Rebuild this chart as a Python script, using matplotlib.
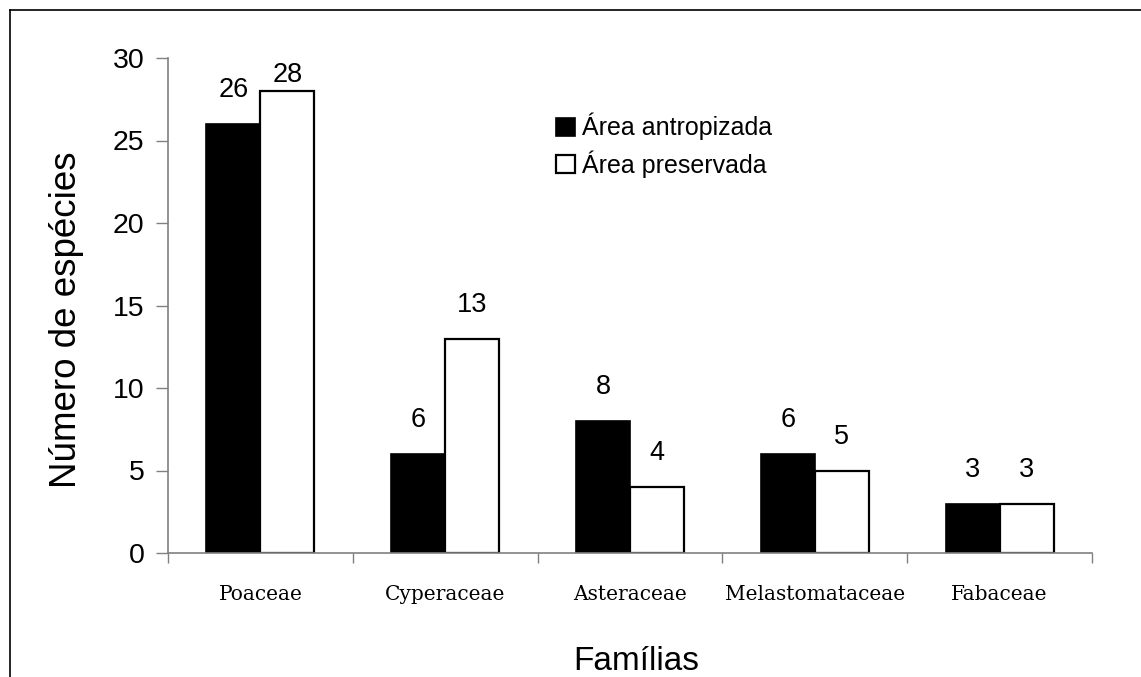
import matplotlib
matplotlib.use("Agg")
import matplotlib.pyplot as plt
from matplotlib.lines import Line2D
import numpy as np

# data
familias = ["Poaceae", "Cyperaceae", "Asteraceae", "Melastomataceae", "Fabaceae"]
antropizada = [26, 6, 8, 6, 3]
preservada = [28, 13, 4, 5, 3]
series_names = ["Área antropizada", "Área preservada"]

plt.rcParams['font.family'] = ['Liberation Sans', 'DejaVu Sans']

fig = plt.figure(figsize=(11.41, 6.77), dpi=100)
ax = fig.add_axes([168/1141, 1-553/677, (1092-168)/1141, (553-58)/677])

x = np.arange(len(familias))
w = 0.292
b1 = ax.bar(x - w/2, antropizada, w, color='black', edgecolor='black', linewidth=1.2,
            label=series_names[0])
b2 = ax.bar(x + w/2, preservada, w, color='white', edgecolor='black', linewidth=1.6,
            label=series_names[1])

# value labels above bars (kept under the top of the axis)
for bars, vals in ((b1, antropizada), (b2, preservada)):
    for r, v in zip(bars, vals):
        ty = min(v + 1.25, 28.2)
        ax.text(r.get_x() + r.get_width()/2, ty, str(v), ha='center', va='bottom',
                fontsize=19.5)

ax.set_xlim(-0.5, len(familias) - 0.5)
ax.set_ylim(0, 30)
ax.set_yticks(range(0, 31, 5))
ax.tick_params(axis='y', direction='out', length=9, width=1, color='#808080',
               labelsize=20.5, pad=8)

# category labels at centres, tick marks at boundaries
ax.set_xticks(x)
ax.set_xticklabels(familias, fontfamily='DejaVu Serif', fontsize=14.5)
ax.tick_params(axis='x', which='major', length=0, pad=23)
ax.set_xticks(np.arange(-0.5, len(familias)), minor=True)
ax.tick_params(axis='x', which='minor', direction='out', length=7, width=1, color='#808080')

for s in ('top', 'right'):
    ax.spines[s].set_visible(False)
for s in ('left', 'bottom'):
    ax.spines[s].set_color('#808080')
    ax.spines[s].set_linewidth(1.2)

fig.text(67/1141, 1-320/677, "Número de espécies", rotation=90, ha='center', va='center',
         fontsize=26.5)
fig.text(636/1141, 1-661/677, "Famílias", ha='center', va='center', fontsize=24)

ax.legend(loc='upper left', bbox_to_anchor=(556/1141, 1-113/677), bbox_transform=fig.transFigure,
          frameon=False, fontsize=18, handlelength=0.75, handleheight=0.75,
          handletextpad=0.3, labelspacing=0.4, borderpad=0, borderaxespad=0)

# outer frame (top and left only, as in the reference)
fig.add_artist(Line2D([10/1141, 1], [1-10/677, 1-10/677], transform=fig.transFigure,
                      color='black', linewidth=1.2))
fig.add_artist(Line2D([10/1141, 10/1141], [0, 1-10/677], transform=fig.transFigure,
                      color='black', linewidth=1.2))

fig.savefig("out.png", dpi=100)
